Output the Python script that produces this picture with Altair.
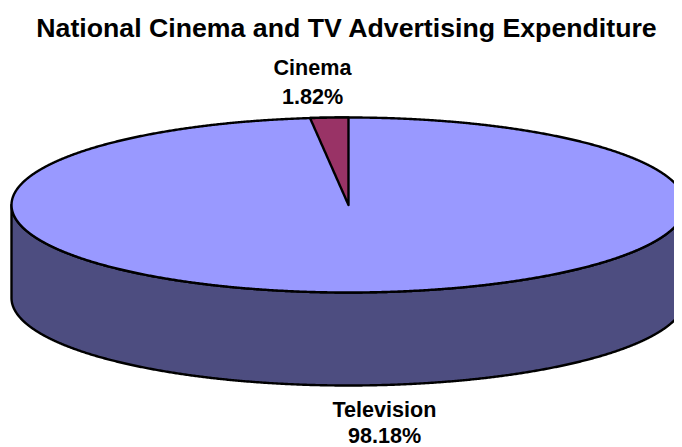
import numpy as np
import pandas as pd
import altair as alt

TITLE = "National Cinema and TV Advertising Expenditure"
categories = ["Cinema", "Television"]
shares = [1.82, 98.18]
slice_colors = ["#993366", "#9999FF"]
wall_color = "#4D4D80"

# layout, in picture pixels
CX, CY, RX, RY, DEPTH = 348.5, 205.0, 337.0, 87.5, 93.0
PAD_TOP = 40
W, H = 666, 399
x_scale = alt.Scale(domain=[8, 8 + W], range=[0, W], nice=False, zero=False)
y_scale = alt.Scale(domain=[8 + PAD_TOP, 8 + PAD_TOP + H], range=[0, H], nice=False, zero=False)

# ellipse outline sampled through the angle, denser near the ends
theta = np.linspace(0, np.pi, 721)
ex = CX - RX * np.cos(theta)
half = RY * np.sqrt(np.clip(1 - ((ex - CX) / RX) ** 2, 0, 1))

top = pd.DataFrame({"x": ex, "y": CY - half, "y2": CY + half})
wall = pd.DataFrame({"x": ex, "y": CY + half, "y2": CY + half + DEPTH})

# Cinema wedge: runs counter-clockwise from 12 o'clock by its share
ang = shares[0] / 100 * 2 * np.pi
x_left = CX - RX * np.sin(ang)
wx = np.linspace(x_left, CX, 41)
wy_top = CY - RY * np.sqrt(1 - ((wx - CX) / RX) ** 2)
wy_low = wy_top[0] + (CY - wy_top[0]) * (wx - x_left) / (CX - x_left)
wedge = pd.DataFrame({"x": wx, "y": wy_top, "y2": wy_low})


def shape(df, color):
    return alt.Chart(df).mark_area(
        fill=color, stroke="black", strokeWidth=2.4, strokeJoin="round", clip=True, opacity=1, interpolate="linear"
    ).encode(
        x=alt.X("x:Q", scale=x_scale, axis=None),
        y=alt.Y("y:Q", scale=y_scale, axis=None),
        y2="y2:Q",
    )


labels = pd.DataFrame({
    "x": [312.5, 312.5, 384.5, 384.5],
    "y": [69.0, 98.0, 411.0, 437.0],
    "t": [categories[0], f"{shares[0]:.2f}%", categories[1], f"{shares[1]:.2f}%"],
})
text = alt.Chart(labels).mark_text(
    font="Liberation Sans", fontSize=21.6, fontWeight="bold", color="black", align="center", baseline="middle"
).encode(
    x=alt.X("x:Q", scale=x_scale, axis=None),
    y=alt.Y("y:Q", scale=y_scale, axis=None),
    text="t:N",
)

chart = alt.layer(shape(wall, wall_color), shape(top, slice_colors[1]), shape(wedge, slice_colors[0]), text).properties(
    width=W,
    height=H,
    background="white",
    title=alt.Title(TITLE, font="Liberation Sans", fontSize=26.7, fontWeight="bold", color="black",
                    anchor="middle", offset=5.5, dx=5.5),
    autosize=alt.AutoSizeParams(type="none"),
    padding={"left": 0, "top": PAD_TOP, "right": 0, "bottom": 0},
).configure_view(stroke=None)

chart.save("out.html", embed_options={"renderer": "svg", "actions": False})
